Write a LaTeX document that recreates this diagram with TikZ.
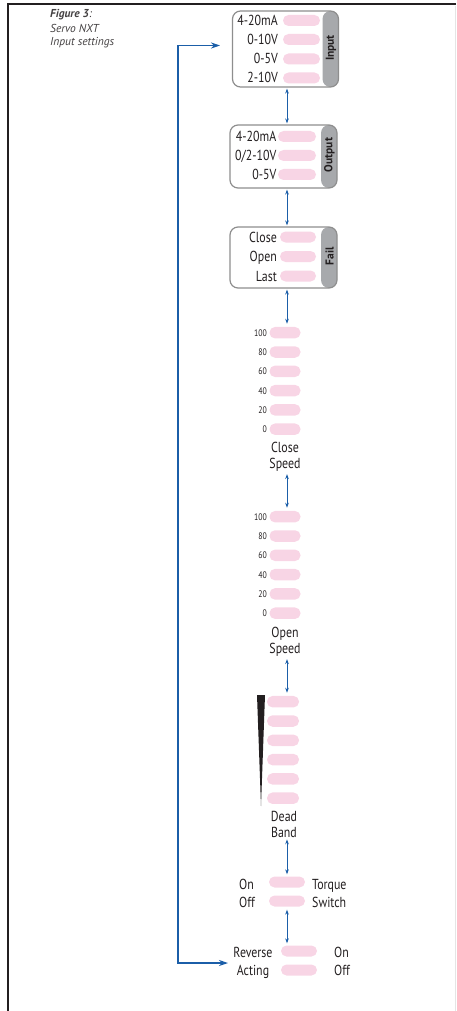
\documentclass[tikz,border=0pt]{standalone}
\usepackage{fontspec}
\setmainfont{PT Sans}
\newfontfamily\cond[FakeStretch=0.82]{PT Sans}
\usetikzlibrary{arrows.meta,calc}
\definecolor{pillpink}{HTML}{F8D5E5}
\definecolor{tabgray}{HTML}{A7A9AC}
\definecolor{boxgray}{HTML}{8E8E8E}
\definecolor{arrblue}{HTML}{1B5EA8}
\definecolor{ink}{HTML}{231F20}
\begin{document}
\begin{tikzpicture}[x=1pt,y=-1pt,
  pill/.style={fill=pillpink, rounded corners=5.5pt, minimum width=37pt, minimum height=11pt, inner sep=0pt},
  spill/.style={pill, minimum width=31pt, minimum height=11.5pt},
  lab/.style={font=\cond\fontsize{14.5}{16}\selectfont, inner sep=0pt, text=ink},
  num/.style={font=\cond\fontsize{9.5}{10}\selectfont, inner sep=0pt, text=ink},
  ttl/.style={font=\itshape\fontsize{11.5}{13}\selectfont, inner sep=0pt, text=ink!85, anchor=base west},
  setbox/.style={draw=boxgray, line width=1.2pt, fill=white, rounded corners=8pt, inner sep=0pt,
    path picture={\fill[tabgray] ([xshift=-16pt]path picture bounding box.north east) rectangle (path picture bounding box.south east);}},
  tablab/.style={font=\bfseries\fontsize{11.5}{12}\selectfont, rotate=90, inner sep=0pt, text=ink},
  darr/.style={{Stealth[length=5pt,width=3.6pt]}-{Stealth[length=5pt,width=3.6pt]}, draw=arrblue, line width=0.9pt},
  farr/.style={{Stealth[length=9pt,width=6pt]}-{Stealth[length=9pt,width=6pt]}, draw=arrblue, line width=1.2pt}
]
\useasboundingbox (0,0) rectangle (456,1011);
% frame
\draw[line width=1.7pt, ink] (456,4) -- (8,4) -- (8,1011);
\draw[gray!20, line width=1pt] (455.5,6) -- (455.5,1011);

% title
\node[ttl] (t1) at (50,18) {\textbf{Figure 3}:};
\node[ttl] (t2) at (50,32.5) {Servo NXT};
\node[ttl] (t3) at (50,46) {Input settings};

% Input box
\node[setbox, minimum width=106pt, minimum height=76pt] (inp) at (285.5,49) {};
\node[tablab] (inpt) at (331,48) {Input};
\foreach \i/\y/\t in {1/20.5/4-20mA, 2/39.5/0-10V, 3/59/0-5V, 4/78/2-10V} {
  \node[pill] (ip\i) at (301.5,\y) {};
  \node[lab, anchor=base east] (il\i) at (278,\y+5) {\t};
}

% Output box
\node[setbox, minimum width=107pt, minimum height=63pt] (out) at (283.5,156.5) {};
\node[tablab] (outt) at (329.5,155) {Output};
\foreach \i/\y/\t in {1/136.5/{4-20mA}, 2/155.5/{0/2-10V}, 3/174.5/{0-5V}} {
  \node[pill, minimum width=38pt] (op\i) at (297,\y) {};
  \node[lab, anchor=base east] (ol\i) at (276.5,\y+5) {\t};
}

% Fail box
\node[setbox, minimum width=107pt, minimum height=61pt] (fail) at (283.5,257.5) {};
\node[tablab] (failt) at (329.5,256) {Fail};
\foreach \i/\y/\t in {1/237/Close, 2/256.5/Open, 3/276/Last} {
  \node[pill, minimum width=36pt] (fp\i) at (298,\y) {};
  \node[lab, anchor=base east] (fl\i) at (277,\y+5) {\t};
}

% Close speed
\foreach \i/\t in {1/100, 2/80, 3/60, 4/40, 5/20, 6/0} {
  \pgfmathsetmacro\yy{332.7+19.3*(\i-1)}
  \node[spill] (cs\i) at (285,\yy) {};
  \node[num, anchor=base east] (cn\i) at (267,\yy+3.4) {\t};
}
\node[lab, anchor=base] (csA) at (285,452) {Close};
\node[lab, anchor=base] (csB) at (285,468) {Speed};

% Open speed
\foreach \i/\t in {1/100, 2/80, 3/60, 4/40, 5/20, 6/0} {
  \pgfmathsetmacro\yy{516.7+19.3*(\i-1)}
  \node[spill] (os\i) at (285,\yy) {};
  \node[num, anchor=base east] (on\i) at (267,\yy+3.4) {\t};
}
\node[lab, anchor=base] (osA) at (285,637) {Open};
\node[lab, anchor=base] (osB) at (285,653) {Speed};

% Dead band
\foreach \i in {1,...,6} {
  \pgfmathsetmacro\yy{701.7+19.3*(\i-1)}
  \node[spill, minimum width=32pt] (db\i) at (283,\yy) {};
}
\fill[ink] (257,695) -- (265,695) -- (261,806) -- cycle;
\node[lab, anchor=base] (dbA) at (284,821) {Dead};
\node[lab, anchor=base] (dbB) at (284,837) {Band};

% Torque switch
\node[pill, minimum width=36pt] (tq1) at (287,882) {};
\node[pill, minimum width=36pt] (tq2) at (287,901) {};
\node[lab, anchor=base west] (tqOn) at (239,889) {On};
\node[lab, anchor=base west] (tqOff) at (239,907) {Off};
\node[lab, anchor=base west] (tqA) at (312,889) {Torque};
\node[lab, anchor=base west] (tqB) at (312,907) {Switch};

% Reverse acting
\node[pill, minimum width=36pt] (rv1) at (299,951) {};
\node[pill, minimum width=36pt] (rv2) at (299,970) {};
\node[lab, anchor=base] (rvA) at (253,957) {Reverse};
\node[lab, anchor=base] (rvB) at (253,975) {Acting};
\node[lab, anchor=base west] (rvOn) at (334,957) {On};
\node[lab, anchor=base west] (rvOff) at (334,975) {Off};

% connectors
\coordinate (ax) at (287,0);
\draw[darr, shorten <=1pt, shorten >=1pt] (inp.south -| ax) -- (out.north -| ax);
\draw[darr, shorten <=1pt, shorten >=1pt] (out.south -| ax) -- (fail.north -| ax);
\draw[darr, shorten <=1pt, shorten >=3pt] (fail.south -| ax) -- (cs1.north -| ax);
\draw[darr, shorten <=3pt, shorten >=3pt] (csB.south -| ax) -- (os1.north -| ax);
\draw[darr, shorten <=3pt, shorten >=3pt] (osB.south -| ax) -- (db1.north -| ax);
\draw[darr, shorten <=2pt, shorten >=2pt] (dbB.south -| ax) -- (tq1.north -| ax);
\draw[darr, shorten <=3pt, shorten >=2pt] (tq2.south -| ax) -- (rv1.north -| ax);

\coordinate (fbtop) at (220,45.5);
\coordinate (fbend) at (228,963);
\coordinate (fbx) at (178,0);
\draw[farr] (fbtop) -- (fbtop -| fbx) -- (fbend -| fbx) -- (fbend);
\end{tikzpicture}
\end{document}
